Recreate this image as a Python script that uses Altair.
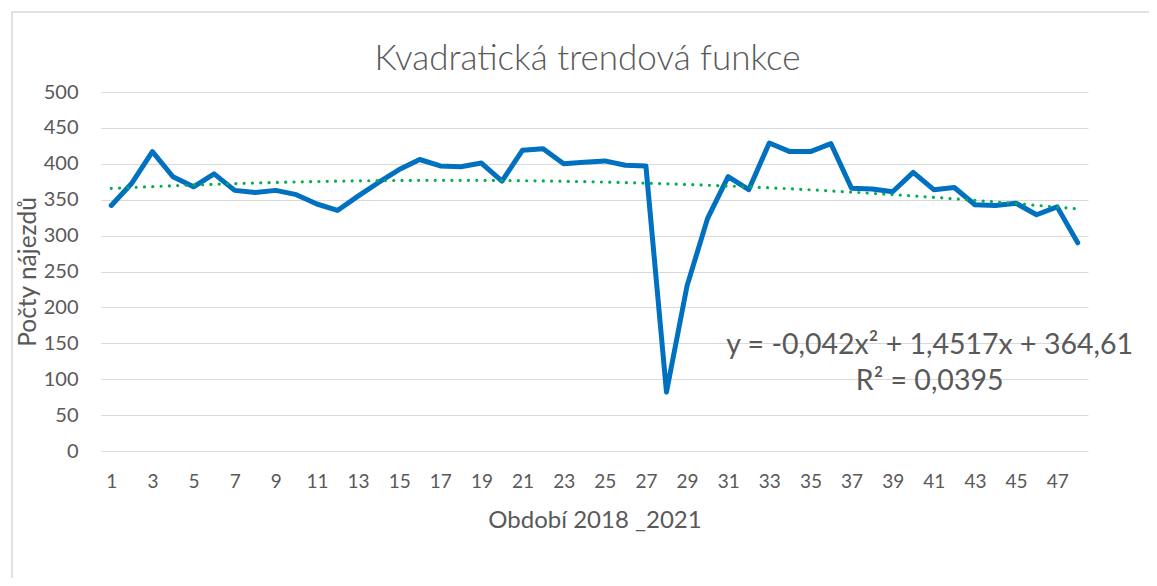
import altair as alt
import pandas as pd

periods = list(range(1, 49))
counts = [342, 373, 417, 382, 368, 386, 363, 360, 363, 357, 344, 335,
          355, 374, 392, 406, 397, 396, 401, 376, 419, 421, 400, 402,
          404, 398, 397, 82, 230, 324, 382, 364, 429, 417, 417, 428,
          366, 365, 361, 388, 364, 367, 343, 342, 345, 329, 340, 290]
x_tick_labels = list(range(1, 49, 2))
y_ticks = list(range(0, 501, 50))

title_text = "Kvadratická trendová funkce"
x_title = "Období 2018 _2021"
y_title = "Počty nájezdů"
eq_lines = ["y = -0,042x² + 1,4517x + 364,61", "R² = 0,0395"]
eq_x = [40.8, 40.8]
eq_y = [148, 97]

df = pd.DataFrame({"period": periods, "count": counts})
eq_df = pd.DataFrame({"text": eq_lines, "x": eq_x, "y": eq_y})

FONT = "Lato"
GRAY = "#595959"

x_scale = alt.Scale(domain=[0.5, 48.5], nice=False, zero=False)
y_scale = alt.Scale(domain=[0, 500], nice=False)

x_axis = alt.Axis(values=x_tick_labels, title=x_title, grid=False, ticks=False, tickSize=0,
                  domain=False, labelPadding=21, titlePadding=17, labelFontSize=19,
                  titleFontSize=24, labelColor=GRAY, titleColor=GRAY, labelFont=FONT,
                  titleFont=FONT, titleFontWeight="normal", labelFlush=False,
                  labelOverlap=False)
y_axis = alt.Axis(values=y_ticks, title=y_title, grid=True, gridColor="#D9D9D9", gridWidth=1.2,
                  ticks=False, tickSize=0, domain=False, labelPadding=23, titlePadding=3,
                  labelFontSize=20, titleFontSize=24.5, labelColor=GRAY, titleColor=GRAY,
                  labelFont=FONT, titleFont=FONT, titleFontWeight="normal",
                  labelOverlap=False)

base = alt.Chart(df)

line = base.mark_line(color="#0070C0", strokeWidth=5, strokeJoin="round", strokeCap="round").encode(
    x=alt.X("period:Q", scale=x_scale, axis=x_axis),
    y=alt.Y("count:Q", scale=y_scale, axis=y_axis),
)

trend = base.transform_regression("period", "count", method="poly", order=2, extent=[1, 48]).mark_line(
    color="#00B050", strokeWidth=3.2, strokeDash=[0.01, 8.3], strokeCap="round"
).encode(x=alt.X("period:Q", scale=x_scale, axis=x_axis), y=alt.Y("count:Q", scale=y_scale, axis=y_axis))

eq = alt.Chart(eq_df).mark_text(font=FONT, fontSize=28.5, color=GRAY, align="center", baseline="middle").encode(
    x=alt.X("x:Q", scale=x_scale, axis=x_axis), y=alt.Y("y:Q", scale=y_scale, axis=y_axis), text="text:N"
)

frame = alt.Chart(pd.DataFrame({"k": [0]})).mark_rect(fill="transparent", stroke="#D9D9D9", strokeWidth=1.5).encode(
    x=alt.value(-89), x2=alt.value(1200), y=alt.value(-80), y2=alt.value(700)
)

chart = alt.layer(frame, line, trend, eq).properties(
    width=987, height=359,
    title=alt.TitleParams(title_text, font=FONT, fontSize=35, fontWeight=300, color=GRAY,
                          anchor="middle", offset=14, dy=80, dx=-7),
    autosize=alt.AutoSizeParams(type="none"),
    padding={"left": 93, "top": 84, "right": 61, "bottom": 127},
).configure_view(stroke=None)

chart.save("out.html", embed_options={"renderer": "svg", "actions": False})
